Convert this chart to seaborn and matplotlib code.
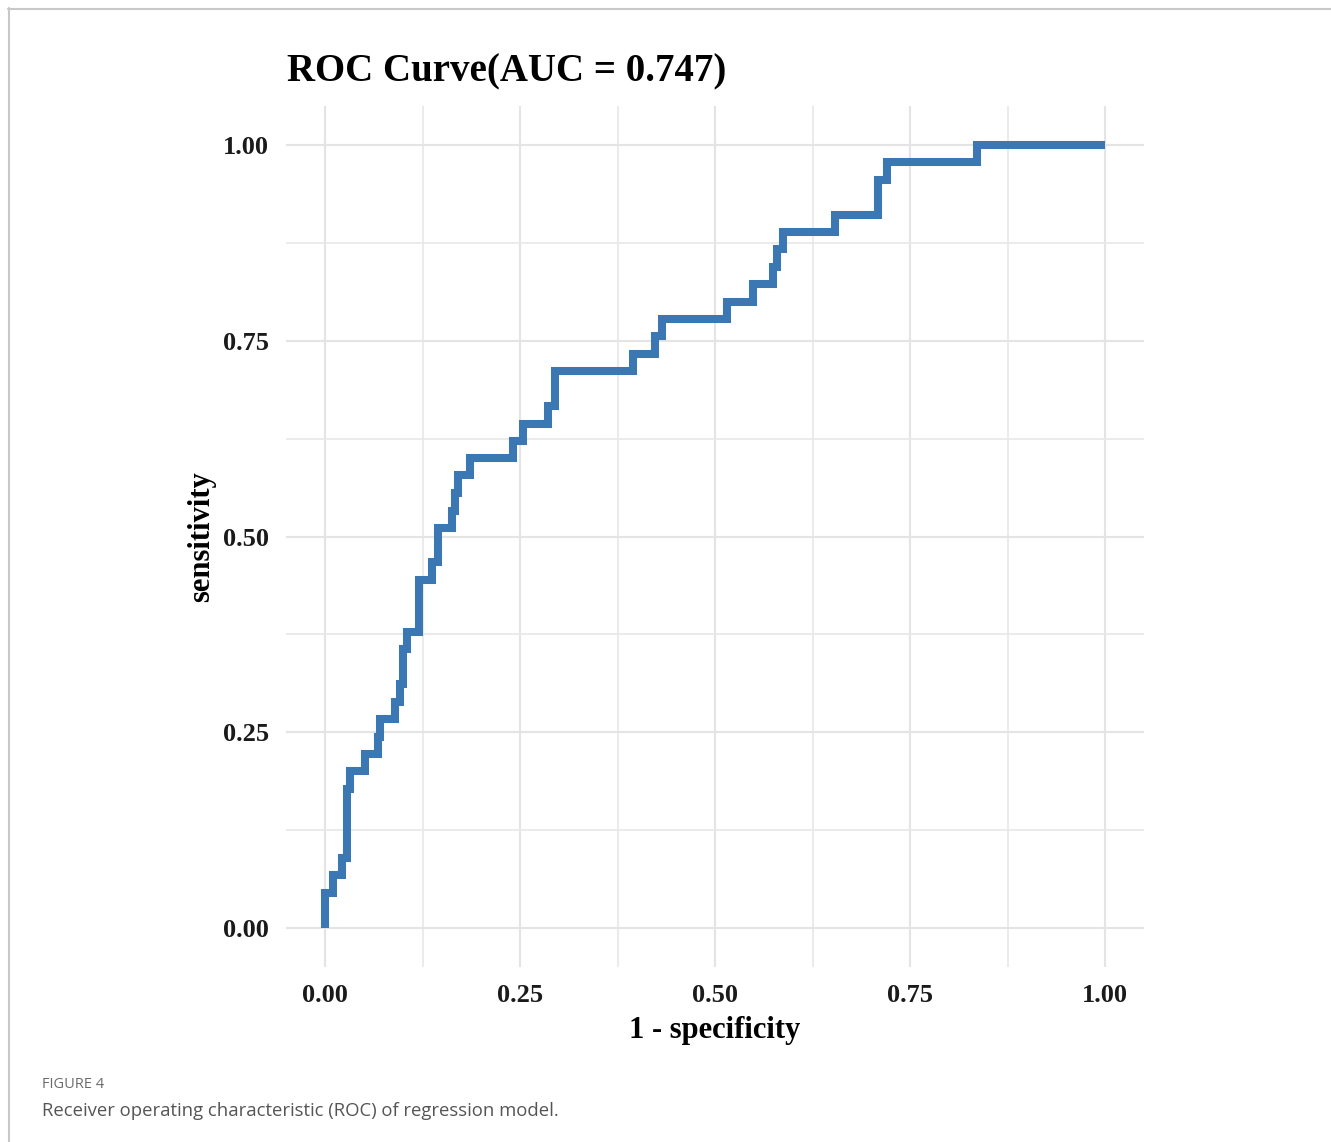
import matplotlib
matplotlib.use("Agg")
import matplotlib.pyplot as plt
from matplotlib.lines import Line2D
import numpy as np
import pandas as pd
import seaborn as sns

# ROC operating points (1 - specificity, sensitivity), one per threshold
fpr = [0.000, 0.000, 0.010, 0.022, 0.028, 0.032, 0.051, 0.068, 0.071, 0.090,
       0.096, 0.100, 0.105, 0.120, 0.137, 0.145, 0.163, 0.167, 0.170, 0.186,
       0.241, 0.254, 0.286, 0.295, 0.395, 0.423, 0.432, 0.515, 0.549, 0.574,
       0.579, 0.587, 0.654, 0.709, 0.720, 0.836, 1.000]
tpr = [0.000, 0.044, 0.067, 0.089, 0.178, 0.200, 0.222, 0.244, 0.267, 0.289,
       0.311, 0.356, 0.378, 0.444, 0.467, 0.511, 0.533, 0.556, 0.578, 0.600,
       0.622, 0.644, 0.667, 0.711, 0.733, 0.756, 0.778, 0.800, 0.822, 0.844,
       0.867, 0.889, 0.911, 0.956, 0.978, 1.000, 1.000]
auc_value = 0.747

tick_values = [0.00, 0.25, 0.50, 0.75, 1.00]
tick_labels = ["0.00", "0.25", "0.50", "0.75", "1.00"]
minor_values = [0.125, 0.375, 0.625, 0.875]

roc = pd.DataFrame({"fpr": fpr, "tpr": tpr})

sns.set_theme(style="white")
plt.rcParams["font.family"] = ["Liberation Serif", "DejaVu Serif"]

W, H = 1331, 1142
fig = plt.figure(figsize=(W / 100, H / 100), dpi=100)
fig.patch.set_facecolor("white")

left, right, bottom, top = 286, 1144, 967, 106
ax = fig.add_axes([left / W, 1 - bottom / H, (right - left) / W, (bottom - top) / H])
ax.set_facecolor("white")

sns.lineplot(data=roc, x="fpr", y="tpr", ax=ax, estimator=None, sort=False,
             drawstyle="steps-post", color="#3a77b3", linewidth=5.8,
             solid_joinstyle="miter", solid_capstyle="butt", zorder=3)

ax.set_xlim(-0.05, 1.05)
ax.set_ylim(-0.05, 1.05)
ax.set_xticks(tick_values)
ax.set_xticklabels(tick_labels)
ax.set_yticks(tick_values)
ax.set_yticklabels(tick_labels)
ax.set_xticks(minor_values, minor=True)
ax.set_yticks(minor_values, minor=True)

ax.grid(True, which="major", color="#e4e4e4", linewidth=1.5, zorder=0)
ax.grid(True, which="minor", color="#e8e8e8", linewidth=1.2, zorder=0)
ax.set_axisbelow(True)
for s in ax.spines.values():
    s.set_visible(False)

ax.tick_params(axis="both", which="both", length=0, labelsize=19, colors="#1a1a1a")
ax.tick_params(axis="x", pad=12)
ax.tick_params(axis="y", pad=12)
for lab in ax.get_xticklabels() + ax.get_yticklabels():
    lab.set_fontweight("bold")

ax.set_xlabel("1 - specificity", fontsize=22, fontweight="bold", color="black", labelpad=7)
ax.set_ylabel("sensitivity", fontsize=22, fontweight="bold", color="black", labelpad=5)

fig.text(287 / W, 1 - 72 / H, f"ROC Curve(AUC = {auc_value})", fontsize=28,
         fontweight="bold", color="black", ha="left", va="center")

# page frame: top and left rules
fig.add_artist(Line2D([8 / W, 1.0], [1 - 8.5 / H, 1 - 8.5 / H], color="#c8c8c8", linewidth=1.5))
fig.add_artist(Line2D([8.5 / W, 8.5 / W], [0.0, 1 - 8 / H], color="#c8c8c8", linewidth=1.5))

# figure caption
fig.text(42 / W, 1 - 1084 / H, "FIGURE 4", fontsize=10.5, color="#6b6b6b",
         family=["Open Sans", "DejaVu Sans"], ha="left", va="center")
fig.text(42 / W, 1 - 1111 / H, "Receiver operating characteristic (ROC) of regression model.",
         fontsize=13.3, color="#555555", family=["Open Sans", "DejaVu Sans"],
         ha="left", va="center")

fig.savefig("out.png", dpi=100, facecolor="white")
